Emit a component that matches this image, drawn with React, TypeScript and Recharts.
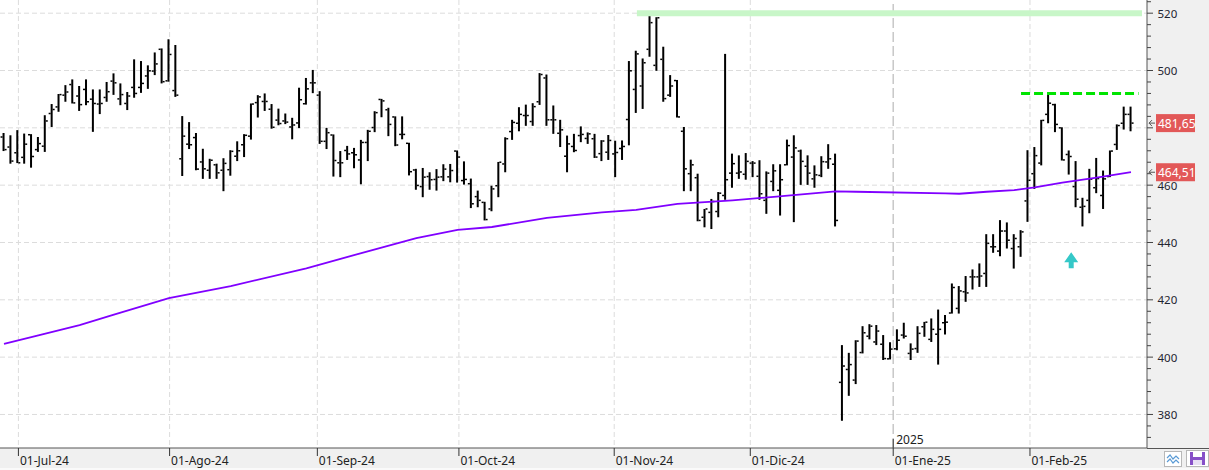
import React from "react";
import {
  ComposedChart,
  Bar,
  Line,
  XAxis,
  YAxis,
  CartesianGrid,
  ReferenceLine,
  ReferenceDot,
} from "recharts";

// sesiones diarias: [apertura, máximo, mínimo, cierre]
const ohlc: [number, number, number, number][] = [
  [476.8, 478.2, 471.9, 472.4], [473.3, 477.4, 467.5, 468.4], [471.3, 479.2, 467.7, 467.8],
  [469.7, 478.0, 467.5, 474.3], [477.6, 477.8, 466.1, 470.0], [472.4, 476.8, 471.6, 474.5],
  [473.6, 484.4, 471.6, 482.4], [485.0, 488.3, 480.3, 486.4], [487.3, 491.8, 485.6, 491.6],
  [491.4, 494.9, 489.1, 492.5], [495.1, 496.9, 488.5, 488.7], [491.1, 494.6, 485.9, 488.1],
  [493.4, 496.9, 487.9, 489.1], [490.0, 493.4, 478.6, 488.5], [488.3, 493.4, 484.8, 488.5],
  [490.6, 496.0, 489.1, 492.6], [496.3, 499.0, 491.5, 495.7], [490.1, 495.5, 487.9, 491.6],
  [488.5, 492.5, 486.2, 491.1], [494.1, 503.9, 490.5, 492.0], [494.1, 503.3, 492.2, 495.5],
  [498.1, 501.8, 493.6, 499.9], [499.8, 506.3, 498.4, 502.3], [507.4, 507.7, 495.5, 496.1],
  [496.4, 510.9, 496.1, 505.6], [493.0, 508.9, 490.8, 491.4], [469.2, 484.1, 463.2, 477.1],
  [474.3, 482.0, 472.6, 474.1], [476.6, 478.2, 465.2, 465.6], [468.1, 472.7, 462.2, 465.7],
  [465.2, 469.2, 462.2, 468.7], [467.1, 467.5, 462.2, 464.3], [465.2, 469.4, 457.9, 467.6],
  [465.4, 472.2, 463.3, 471.8], [470.1, 475.3, 468.4, 472.0], [474.1, 477.8, 469.8, 477.4],
  [477.1, 488.5, 475.9, 488.3], [488.8, 491.4, 483.6, 490.8], [489.2, 492.0, 485.9, 489.2],
  [486.5, 488.3, 479.7, 480.2], [482.7, 486.7, 480.9, 481.5], [482.4, 485.0, 481.3, 482.0],
  [480.3, 483.5, 476.0, 481.0], [481.7, 494.0, 479.9, 489.8], [488.4, 497.4, 488.1, 493.6],
  [495.7, 500.2, 492.1, 495.7], [491.4, 492.8, 474.4, 475.3], [475.3, 480.0, 472.6, 478.3],
  [477.5, 477.7, 463.0, 468.6], [467.8, 471.9, 462.8, 467.8], [472.1, 473.7, 468.8, 470.9],
  [471.3, 473.0, 465.9, 470.6], [468.8, 475.8, 460.3, 474.9], [474.9, 479.3, 468.4, 478.8],
  [480.1, 485.8, 478.5, 485.3], [489.9, 490.1, 483.7, 489.4], [486.3, 487.0, 477.1, 481.2],
  [483.8, 484.0, 473.6, 474.0], [477.7, 484.0, 476.0, 477.7], [474.6, 474.8, 463.4, 464.7],
  [465.3, 465.7, 458.4, 459.9], [459.5, 466.0, 455.8, 462.8], [463.0, 464.5, 458.4, 461.9],
  [462.0, 465.6, 458.1, 462.8], [462.9, 467.3, 461.4, 465.6], [462.9, 467.4, 461.0, 465.1],
  [471.9, 472.1, 460.9, 469.8], [461.6, 468.3, 460.2, 462.0], [460.5, 462.3, 452.0, 453.5],
  [456.0, 458.1, 452.3, 454.7], [454.0, 454.2, 447.7, 448.0], [451.7, 459.8, 450.9, 458.7],
  [459.8, 468.1, 455.8, 468.0], [467.4, 476.7, 464.5, 476.2], [478.7, 482.8, 475.8, 481.9],
  [481.6, 487.2, 478.8, 484.7], [484.3, 488.1, 480.7, 484.3], [482.2, 488.6, 480.7, 487.4],
  [489.1, 499.1, 488.0, 498.6], [497.4, 498.6, 480.7, 482.8], [482.8, 487.8, 477.9, 482.8],
  [478.1, 482.8, 473.3, 479.3], [470.1, 477.3, 464.5, 474.4], [473.5, 477.9, 471.5, 472.1],
  [477.3, 480.5, 475.0, 477.7], [476.3, 478.4, 474.4, 477.9], [476.2, 477.9, 469.5, 469.8],
  [471.0, 475.7, 468.4, 475.4], [471.5, 477.5, 468.8, 475.6], [470.9, 475.5, 462.8, 471.4],
  [472.8, 475.6, 468.8, 473.5], [482.9, 503.3, 473.9, 499.9], [493.4, 506.9, 485.2, 505.8],
  [494.6, 504.2, 486.6, 502.7], [507.4, 520.2, 504.8, 516.7], [501.8, 518.6, 499.9, 518.4],
  [503.9, 508.3, 489.1, 490.2], [491.4, 498.4, 490.8, 494.6], [496.5, 496.7, 483.6, 483.8],
  [478.8, 480.3, 457.9, 465.7], [464.0, 468.9, 457.9, 467.1], [462.6, 464.0, 447.4, 447.7],
  [448.8, 451.7, 445.3, 451.7], [450.5, 455.2, 444.7, 454.3], [450.8, 457.6, 448.8, 457.2],
  [456.4, 505.8, 454.9, 461.9], [464.2, 471.0, 459.1, 467.5], [464.2, 470.4, 462.2, 464.6],
  [463.8, 471.2, 461.9, 468.3], [467.7, 468.4, 462.8, 467.7], [463.1, 468.7, 454.9, 457.0],
  [454.7, 464.8, 450.0, 464.2], [461.3, 467.3, 457.9, 465.0], [458.2, 467.3, 449.4, 461.9],
  [467.1, 475.9, 466.9, 473.8], [469.8, 477.4, 447.1, 473.0], [471.9, 472.4, 460.1, 468.3],
  [466.6, 470.4, 460.1, 464.2], [462.2, 466.9, 459.1, 463.6], [463.4, 470.1, 462.8, 468.2],
  [468.1, 474.3, 465.7, 469.2], [467.3, 471.0, 445.6, 447.7], [391.2, 404.2, 377.8, 396.9],
  [395.7, 401.5, 386.5, 397.4], [392.0, 405.9, 390.6, 405.6], [401.6, 410.8, 401.3, 408.5],
  [407.3, 411.5, 406.2, 410.8], [405.3, 411.2, 404.2, 409.1], [404.5, 407.7, 399.0, 399.5],
  [399.4, 405.2, 399.2, 402.8], [402.9, 409.7, 402.4, 405.9], [407.7, 412.0, 406.5, 407.3],
  [401.3, 404.8, 399.0, 402.8], [403.0, 410.8, 401.5, 408.3], [410.6, 412.3, 407.1, 412.2],
  [406.2, 413.5, 405.3, 409.7], [408.0, 416.6, 397.4, 409.7], [412.0, 414.7, 407.9, 412.2],
  [415.4, 425.7, 415.2, 424.3], [417.0, 424.8, 415.2, 423.1], [422.8, 428.3, 419.3, 422.4],
  [428.0, 430.6, 423.6, 428.0], [428.0, 432.7, 424.5, 428.3], [429.2, 442.9, 424.5, 439.7],
  [438.5, 442.9, 436.4, 438.5], [437.0, 447.8, 435.2, 444.0], [444.0, 447.0, 437.9, 440.8],
  [437.9, 442.9, 430.9, 441.4], [438.5, 444.3, 435.0, 443.7], [454.5, 472.2, 447.2, 461.7],
  [464.0, 473.3, 458.7, 470.3], [467.7, 482.8, 466.9, 482.6], [484.7, 491.6, 481.6, 488.6],
  [488.1, 488.4, 478.5, 481.2], [480.0, 480.2, 468.6, 468.8], [470.7, 472.1, 463.7, 470.0],
  [459.5, 468.4, 452.3, 455.1], [452.3, 455.6, 445.6, 452.6], [454.7, 465.7, 450.2, 462.1],
  [459.1, 469.5, 457.2, 462.3], [456.4, 465.1, 451.7, 462.2], [463.0, 472.1, 462.8, 471.9],
  [474.2, 481.2, 472.3, 480.8], [481.6, 487.4, 479.4, 484.7], [484.7, 487.4, 478.8, 481.65],
];

// media móvil: [sesión, valor]
const maPoints: [number, number][] = [
  [0, 404.6], [5, 407.6], [11, 411.2], [16, 414.8], [24, 420.6], [33, 424.8],
  [44, 431.0], [52, 436.3], [60, 441.5], [66, 444.4], [71, 445.4], [79, 448.6],
  [87, 450.5], [92, 451.4], [98, 453.5], [106, 454.7], [112, 455.9], [121, 457.8],
  [124, 457.7], [137, 457.1], [139, 457.0], [143, 457.7], [147, 458.3], [150, 459.2],
  [154, 460.9], [159, 462.6], [164, 464.51],
];

const monthTicks = [2.1, 24.1, 45.6, 66.2, 88.8, 108.6, 129.4, 149.3];
const monthLabels = [
  "01-Jul-24", "01-Ago-24", "01-Sep-24", "01-Oct-24",
  "01-Nov-24", "01-Dic-24", "01-Ene-25", "01-Feb-25",
];
const yearTick = 129.4;
const yearLabel = "2025";

const priceTicks = [380, 400, 420, 440, 460, 480, 500, 520];
const minorTicks: number[] = [];
for (let v = 372; v <= 524; v += 4) minorTicks.push(v);

const resistance = 520;
const resistanceFrom = 92.1;
const resistanceTo = 165.6;
const recentHigh = 492;
const recentHighFrom = 148;
const recentHighTo = 165.1;
const signalX = 155.3;
const signalY = 433.8;
const lastClose = 481.65;
const lastMa = 464.51;
const tagValues = [lastMa, lastClose];

const maByIndex = new Map(maPoints);
const data = ohlc.map(([o, h, l, c], i) => ({
  i,
  o,
  c,
  range: [l, h],
  ma: maByIndex.get(i),
}));

const FONT = "'Noto Sans', 'DejaVu Sans', sans-serif";

function OhlcShape(props: any) {
  const { x, y, width, height, payload } = props;
  if (height == null || !payload) return null;
  const top = Math.min(y, y + height);
  const h = Math.abs(height);
  const [lo, hi] = payload.range;
  const k = h / (hi - lo);
  const cx = x + width / 2;
  const yo = top + (hi - payload.o) * k;
  const yc = top + (hi - payload.c) * k;
  return (
    <g>
      <rect x={cx - 1} y={top} width={2} height={Math.max(h, 1)} fill="#000" />
      <rect x={cx - 3} y={yo - 0.75} width={2} height={1.5} fill="#000" />
      <rect x={cx + 1} y={yc - 0.75} width={2} height={1.5} fill="#000" />
    </g>
  );
}

function MonthTick(props: any) {
  const { x, y, payload } = props;
  const idx = monthTicks.indexOf(payload.value);
  return (
    <g>
      <line x1={x} y1={y} x2={x} y2={y + 8} stroke="#333" />
      <text x={x + 1.5} y={y + 16.5} fontSize={12} fill="#222" fontFamily={FONT}>
        {idx >= 0 ? monthLabels[idx] : ""}
      </text>
    </g>
  );
}

// escala de precios; las dos etiquetas rojas se dibujan al final, encima
function PriceTick(props: any) {
  const { x, y, payload } = props;
  const v = payload.value;
  if (tagValues.includes(v)) {
    return (
      <g>
        <path
          d={`M${x + 8},${y} L${x + 2},${y} M${x + 5},${y - 3} L${x + 2},${y} L${x + 5},${y + 3}`}
          stroke="#555"
          fill="none"
        />
        <rect x={x + 9} y={y - 9} width={39} height={18} fill="#e25858" />
        <text x={x + 11} y={y + 4.5} fontSize={12} fill="#fff" fontFamily={FONT}>
          {v.toFixed(2).replace(".", ",")}
        </text>
      </g>
    );
  }
  const major = priceTicks.includes(v);
  return (
    <g>
      <line x1={x} y1={y} x2={x + (major ? 6 : 4)} y2={y} stroke="#444" />
      {major && (
        <text x={x + 10.5} y={y + 4.5} fontSize={11.5} fill="#1f2430" fontFamily={FONT}>
          {v}
        </text>
      )}
    </g>
  );
}

function yearMark(props: any) {
  const vb = props.viewBox;
  if (!vb) return null;
  const bottom = vb.y + vb.height;
  return (
    <g>
      <line x1={vb.x} y1={bottom - 9} x2={vb.x} y2={bottom} stroke="#333" />
      <text x={vb.x + 3} y={bottom - 4} fontSize={12} fill="#222" fontFamily={FONT}>
        {yearLabel}
      </text>
    </g>
  );
}

function ArrowUp(props: any) {
  const { cx, cy } = props;
  return (
    <path
      d={`M${cx},${cy - 8} L${cx + 7},${cy + 2} L${cx + 2.5},${cy + 2} L${cx + 2.5},${cy + 8} L${cx - 2.5},${cy + 8} L${cx - 2.5},${cy + 2} L${cx - 7},${cy + 2} Z`}
      fill="#35c8c8"
    />
  );
}

export default function App() {
  return (
    <div
      style={{
        position: "absolute",
        left: 0,
        top: 0,
        width: 1209,
        height: 470,
        background: "#f0f0f0",
        fontFamily: FONT,
      }}
    >
      <div style={{ position: "absolute", left: 0, top: 0, width: 1147, height: 448, background: "#fff" }} />
      <div style={{ position: "absolute", left: 1147, top: 447.5, width: 62, height: 1, background: "#555" }} />
      <div style={{ position: "absolute", left: 0, top: 468, width: 1209, height: 2, background: "#fafafa" }} />
      <div style={{ position: "absolute", left: 0, top: 0 }}>
        <ComposedChart
          width={1209}
          height={470}
          data={data}
          margin={{ top: 0, right: 0, bottom: 0, left: 0 }}
        >
          <CartesianGrid
            stroke="#dcdcdc"
            strokeDasharray="5 3"
            horizontalValues={priceTicks}
            verticalValues={monthTicks.filter((t) => t !== yearTick)}
          />
          <XAxis
            dataKey="i"
            type="number"
            domain={[-0.58, 166.33]}
            allowDataOverflow
            ticks={monthTicks}
            interval={0}
            height={22}
            tickSize={0}
            tickMargin={0}
            tickLine={false}
            axisLine={{ stroke: "#555" }}
            tick={<MonthTick />}
          />
          <YAxis
            orientation="right"
            type="number"
            domain={[368.3, 524.6]}
            allowDataOverflow
            ticks={[...minorTicks, ...tagValues]}
            interval={0}
            width={62}
            tickSize={0}
            tickMargin={0}
            tickLine={false}
            axisLine={{ stroke: "#555" }}
            tick={<PriceTick />}
          />
          <ReferenceLine
            x={yearTick}
            stroke="#c8c8c8"
            strokeWidth={1.5}
            strokeDasharray="10 4"
            label={yearMark}
          />
          <ReferenceLine
            segment={[
              { x: resistanceFrom, y: resistance },
              { x: resistanceTo, y: resistance },
            ]}
            stroke="#c8f6c8"
            strokeWidth={6}
          />
          <ReferenceLine
            segment={[
              { x: recentHighFrom, y: recentHigh },
              { x: recentHighTo, y: recentHigh },
            ]}
            stroke="#00e400"
            strokeWidth={3}
            strokeDasharray="9 4"
          />
          <Line
            dataKey="ma"
            type="linear"
            stroke="#8000ff"
            strokeWidth={1.8}
            dot={false}
            activeDot={false}
            connectNulls
            isAnimationActive={false}
          />
          <Bar dataKey="range" barSize={2} shape={OhlcShape} isAnimationActive={false} />
          <ReferenceDot x={signalX} y={signalY} r={8} shape={ArrowUp} />
        </ComposedChart>
      </div>
      <svg
        style={{ position: "absolute", left: 1164, top: 451 }}
        width={18}
        height={16}
      >
        <rect x={0.5} y={0.5} width={17} height={15} fill="#fff" stroke="#b8b8b8" />
        <polyline points="3,7 6,4 9,8 12,5 15,8" fill="none" stroke="#5b9bd5" strokeWidth={1.2} />
        <polyline points="3,11 6,8 9,12 12,9 15,12" fill="none" stroke="#5b9bd5" strokeWidth={1.2} />
      </svg>
      <svg
        style={{ position: "absolute", left: 1186, top: 450 }}
        width={23}
        height={17}
      >
        <rect x={0.5} y={0.5} width={22} height={16} fill="#fff" stroke="#b8b8b8" />
        <rect x={4} y={2} width={15} height={13} fill="#8750c8" />
        <rect x={7} y={2} width={9} height={5} fill="#fff" />
        <rect x={7} y={10} width={9} height={5} fill="#e8e0f4" />
      </svg>
    </div>
  );
}
